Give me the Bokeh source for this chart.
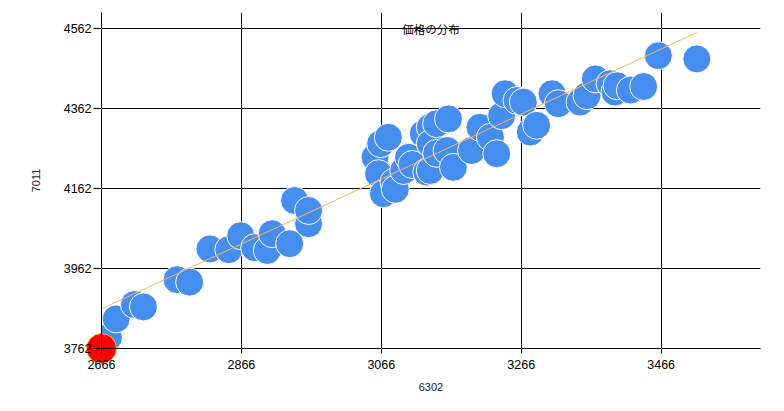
from bokeh.plotting import figure
from bokeh.models import FixedTicker, Label, Range1d
from bokeh.embed import file_html
from bokeh.resources import INLINE

# ---- data ----
x_ticks = [2666, 2866, 3066, 3266, 3466]
y_ticks = [3762, 3962, 4162, 4362, 4562]
x_bounds = [2666, 3608]
y_bounds = [3762, 4602]

price_x = [2676, 2687, 2713, 2726, 2774, 2792, 2821, 2848, 2865, 2885,
           2903, 2910, 2935, 2942, 2962, 2962, 3057, 3062, 3065, 3069,
           3076, 3084, 3086, 3098, 3105, 3110, 3126, 3131, 3136, 3136,
           3136, 3145, 3145, 3160, 3162, 3169, 3195, 3207, 3222, 3231,
           3238, 3243, 3260, 3269, 3279, 3288, 3310, 3319, 3350, 3360,
           3372, 3393, 3400, 3403, 3422, 3441, 3462, 3517]
price_y = [3790, 3836, 3872, 3866, 3934, 3928, 4011, 4009, 4044, 4014,
           4007, 4049, 4024, 4132, 4074, 4107, 4240, 4199, 4274, 4149,
           4290, 4178, 4160, 4207, 4240, 4222, 4299, 4203, 4315, 4274,
           4207, 4250, 4324, 4257, 4336, 4215, 4257, 4315, 4290, 4249,
           4344, 4399, 4382, 4378, 4303, 4320, 4399, 4374, 4378, 4394,
           4436, 4424, 4403, 4419, 4408, 4417, 4494, 4486]

highlight_x = [2666]
highlight_y = [3762]

trend_x = [2666, 3517]
trend_y = [3861, 4552]

title_text = "価格の分布"
x_label = "6302"
y_label = "7011"

# ---- figure ----
p = figure(width=784, height=411, output_backend="svg", toolbar_location=None,
           x_range=Range1d(x_bounds[0], x_bounds[1]),
           y_range=Range1d(y_bounds[0], y_bounds[1]),
           min_border_left=101, min_border_right=24,
           min_border_top=12, min_border_bottom=63)
p.title.text = ""
p.outline_line_color = None
p.background_fill_color = "white"
p.border_fill_color = "white"

for ax, ticks in ((p.xaxis, x_ticks), (p.yaxis, y_ticks)):
    ax.ticker = FixedTicker(ticks=ticks)
    ax.level = "overlay"
    ax.axis_line_color = "black"
    ax.major_tick_line_color = "black"
    ax.minor_tick_line_color = None
    ax.major_tick_in = 0
    ax.major_label_text_font = "Liberation Sans"
    ax.major_label_text_font_size = "12.5px"
    ax.major_label_text_color = "black"
    ax.axis_label_text_font = "Liberation Sans"
    ax.axis_label_text_font_size = "11px"
    ax.axis_label_text_font_style = "normal"
    ax.axis_label_text_color = "#222222"

p.xaxis.major_tick_out = 5
p.xaxis.major_label_standoff = 6
p.xaxis.axis_label = x_label
p.xaxis.axis_label_standoff = 11
p.yaxis.major_tick_out = 8
p.yaxis.major_label_standoff = 2
p.yaxis.axis_label = y_label
p.yaxis.axis_label_standoff = 21

p.xgrid.ticker = FixedTicker(ticks=x_ticks)
p.ygrid.ticker = FixedTicker(ticks=y_ticks)
for g in (p.xgrid, p.ygrid):
    g.grid_line_color = "black"
    g.grid_line_alpha = 1.0
    g.grid_line_width = 1

p.scatter(price_x, price_y, size=28, fill_color="#458DEE", line_color="white",
          line_width=1)
p.line(trend_x, trend_y, line_color="#F9B657", line_width=1)
p.scatter(highlight_x, highlight_y, size=30, fill_color="#FF0000", line_color="#F2D000",
          line_width=1, level="annotation")

p.add_layout(Label(x=(x_bounds[0] + x_bounds[1]) / 2, y=y_ticks[-1], text=title_text,
                   text_align="center", text_baseline="middle",
                   text_font="Noto Sans CJK JP", text_font_size="11.5px",
                   text_color="black"))

open("out.html", "w").write(file_html(p, INLINE))
